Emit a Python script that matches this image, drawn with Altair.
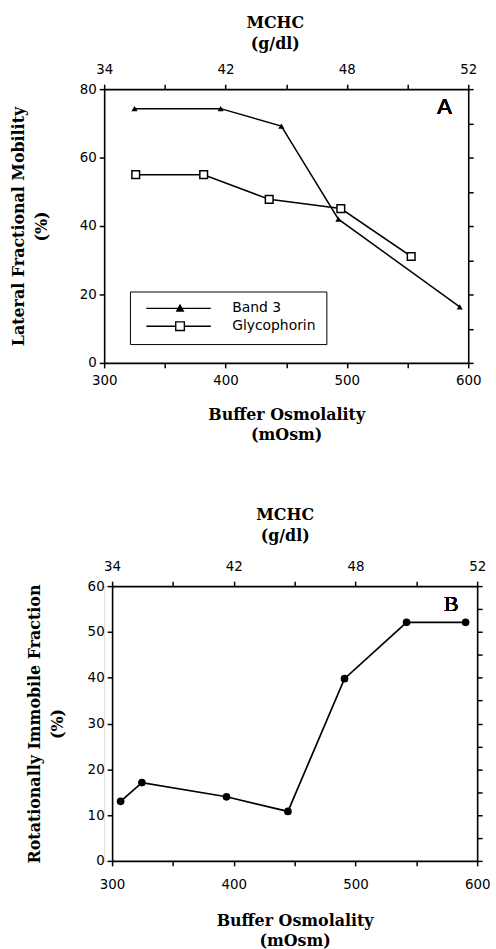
import altair as alt
import pandas as pd

# ---------------- data ----------------
series_names = ["Band 3", "Glycophorin"]
osm_band3 = [325, 396, 446, 493, 593]
lfm_band3 = [74.3, 74.3, 69.2, 42.0, 16.4]
osm_glyco = [326, 382, 436, 495, 553]
lfm_glyco = [55.0, 55.0, 47.8, 45.1, 31.1]

osm_rot = [307, 324.5, 394, 444.5, 491, 542, 590.5]
imm_rot = [13.0, 17.1, 14.0, 10.8, 39.8, 52.1, 52.1]

osm_ticks = [300, 350, 400, 450, 500, 550, 600]
osm_labelled = [300, 400, 500, 600]
mchc_labels = ["34", "42", "48", "52"]
lfm_ticks = [0, 20, 40, 60, 80]
lfm_minor = [0, 10, 20, 30, 40, 50, 60, 70, 80]
rot_ticks = [0, 10, 20, 30, 40, 50, 60]
rot_minor = [0, 5, 10, 15, 20, 25, 30, 35, 40, 45, 50, 55, 60]

SANS = "DejaVu Sans"
SERIF = "DejaVu Serif"

bottom_expr = " || ".join(f"datum.value == {v}" for v in osm_labelled)
bottom_expr = f"({bottom_expr}) ? datum.label : ''"
top_expr = "".join(f"datum.value == {v} ? '{l}' : " for v, l in zip(osm_labelled, mchc_labels)) + "''"

AX = dict(domainColor="black", domainWidth=1.6, tickColor="black", tickWidth=1.5,
          tickSize=5, labelColor="black", labelFont=SANS, labelFontSize=13.5,
          labelFlush=False,
          titleFont=SERIF, titleFontWeight="bold", titleFontSize=16, titleColor="black",
          grid=False)

# legend symbols: a line sample with the series marker in its middle
tri_path = "M-0.1,0L12.9,0M6.05,0.55L6.7,-0.65L7.35,0.55Z"
sq_path = "M-0.1,0L5.83,0M7.57,0L12.9,0M5.83,-0.87L7.57,-0.87L7.57,0.87L5.83,0.87Z"

dfA = pd.DataFrame({
    "osm": osm_band3 + osm_glyco,
    "val": lfm_band3 + lfm_glyco,
    "series": [series_names[0]] * len(osm_band3) + [series_names[1]] * len(osm_glyco),
})
dfB = pd.DataFrame({"osm": osm_rot, "val": imm_rot})


def xscale(rng=None):
    if rng is None:
        return alt.Scale(domain=[300, 600], nice=False, zero=False)
    return alt.Scale(domain=[300, 600], nice=False, zero=False, range=rng)


def bottom_x(sc, lpad, tpad):
    return alt.X("osm:Q", scale=sc, axis=alt.Axis(
        orient="bottom", values=osm_ticks, labelExpr=bottom_expr, labelPadding=lpad,
        title=["Buffer Osmolality", "(mOsm)"], titlePadding=tpad, titleLineHeight=20, **AX))


def top_x(sc, tx, tpad):
    return alt.X("osm:Q", scale=sc, axis=alt.Axis(
        orient="top", values=osm_ticks, labelExpr=top_expr, labelPadding=7.5,
        title=["MCHC", "(g/dl)"], titlePadding=tpad, titleLineHeight=21.5,
        titleX=tx, **AX))


# ---------------- panel A ----------------
WA, HA = 367, 276
xA = xscale()
yA = alt.Scale(domain=[0, 80], nice=False)

linesA = alt.Chart(dfA).mark_line(color="black", strokeWidth=1.5).encode(
    x=bottom_x(xA, 6, 20),
    y=alt.Y("val:Q", scale=yA, axis=alt.Axis(
        orient="left", values=lfm_ticks, labelPadding=3,
        title=["Lateral Fractional Mobility", "(%)"], titlePadding=30,
        titleLineHeight=23, **AX)),
    detail="series:N",
)
triA = alt.Chart(dfA).transform_filter(
    alt.datum.series == series_names[0]
).mark_point(shape="triangle-up", filled=True, color="black", size=38, opacity=1).encode(
    x=alt.X("osm:Q", scale=xA, axis=None),
    y=alt.Y("val:Q", scale=yA, axis=None),
)
sqA = alt.Chart(dfA).transform_filter(
    alt.datum.series == series_names[1]
).mark_point(shape="square", filled=True, fill="white", stroke="black",
             strokeWidth=1.5, size=60, opacity=1).encode(
    x=alt.X("osm:Q", scale=xA, axis=None),
    y=alt.Y("val:Q", scale=yA, axis=None),
)
leg = alt.Legend(title=None, orient="none", legendX=26, legendY=204,
                 strokeColor="black", padding=10, symbolSize=100,
                 symbolStrokeColor="black", symbolStrokeWidth=1.4, symbolOpacity=1,
                 labelFont=SANS, labelFontSize=14, labelColor="black",
                 labelOffset=79, rowPadding=3)
legendA = alt.Chart(dfA).mark_point(opacity=0, filled=True, stroke="black").encode(
    x=alt.X("osm:Q", scale=xA, axis=None),
    y=alt.Y("val:Q", scale=yA, axis=None),
    shape=alt.Shape("series:N", scale=alt.Scale(domain=series_names, range=[tri_path, sq_path]), legend=leg),
    fill=alt.Fill("series:N", scale=alt.Scale(domain=series_names, range=["black", "white"]), legend=leg),
    stroke=alt.Stroke("series:N", scale=alt.Scale(domain=series_names, range=["black", "black"]), legend=leg),
)
axesA = alt.Chart(dfA).mark_point(opacity=0).encode(
    x=top_x(xA, 172, 11),
    y=alt.Y("val:Q", scale=yA, axis=alt.Axis(orient="right", values=lfm_minor,
                                            labels=False, title=None, **AX)),
)
labA = alt.Chart(dfA).mark_text(text="A", font="Liberation Sans", fontSize=22,
                                color="black", align="center", baseline="middle").encode(
    x=alt.value(WA - 24), y=alt.value(18))

panelA = alt.layer(linesA, triA, sqA, legendA, axesA, labA).resolve_axis(
    x="independent", y="independent").properties(width=WA, height=HA)

# ---------------- panel B ----------------
SHIFT = 8
WB, HB = 368 + SHIFT, 277
xB = xscale([SHIFT, WB])
yB = alt.Scale(domain=[0, 60], nice=False)

lineB = alt.Chart(dfB).mark_line(color="black", strokeWidth=1.7).encode(
    x=bottom_x(xB, 12, 22),
    y=alt.Y("val:Q", scale=yB, axis=alt.Axis(
        orient="left", values=rot_ticks, labelPadding=3, offset=-SHIFT,
        title=["Rotationally Immobile Fraction", "(%)"], titlePadding=22,
        titleLineHeight=23, **AX)),
)
dotB = alt.Chart(dfB).mark_circle(color="black", size=60, opacity=1).encode(
    x=alt.X("osm:Q", scale=xB, axis=None),
    y=alt.Y("val:Q", scale=yB, axis=None),
)
axesB = alt.Chart(dfB).mark_point(opacity=0).encode(
    x=top_x(xB, 182, 16.5),
    y=alt.Y("val:Q", scale=yB, axis=alt.Axis(orient="right", values=rot_minor,
                                            labels=False, title=None, **AX)),
)
labB = alt.Chart(dfB).mark_text(text="B", font="Liberation Serif", fontSize=22,
                                color="black", align="center", baseline="middle").encode(
    x=alt.value(350), y=alt.value(18.5))

panelB = alt.layer(lineB, dotB, axesB, labB).resolve_axis(
    x="independent", y="independent").properties(width=WB, height=HB)

chart = alt.vconcat(panelA, panelB, spacing=63).properties(
    padding={"left": 10, "top": 10, "right": 0, "bottom": 0}
).configure_view(stroke=None).configure(background="white")

chart.save("out.html", embed_options={"renderer": "svg", "actions": False})
